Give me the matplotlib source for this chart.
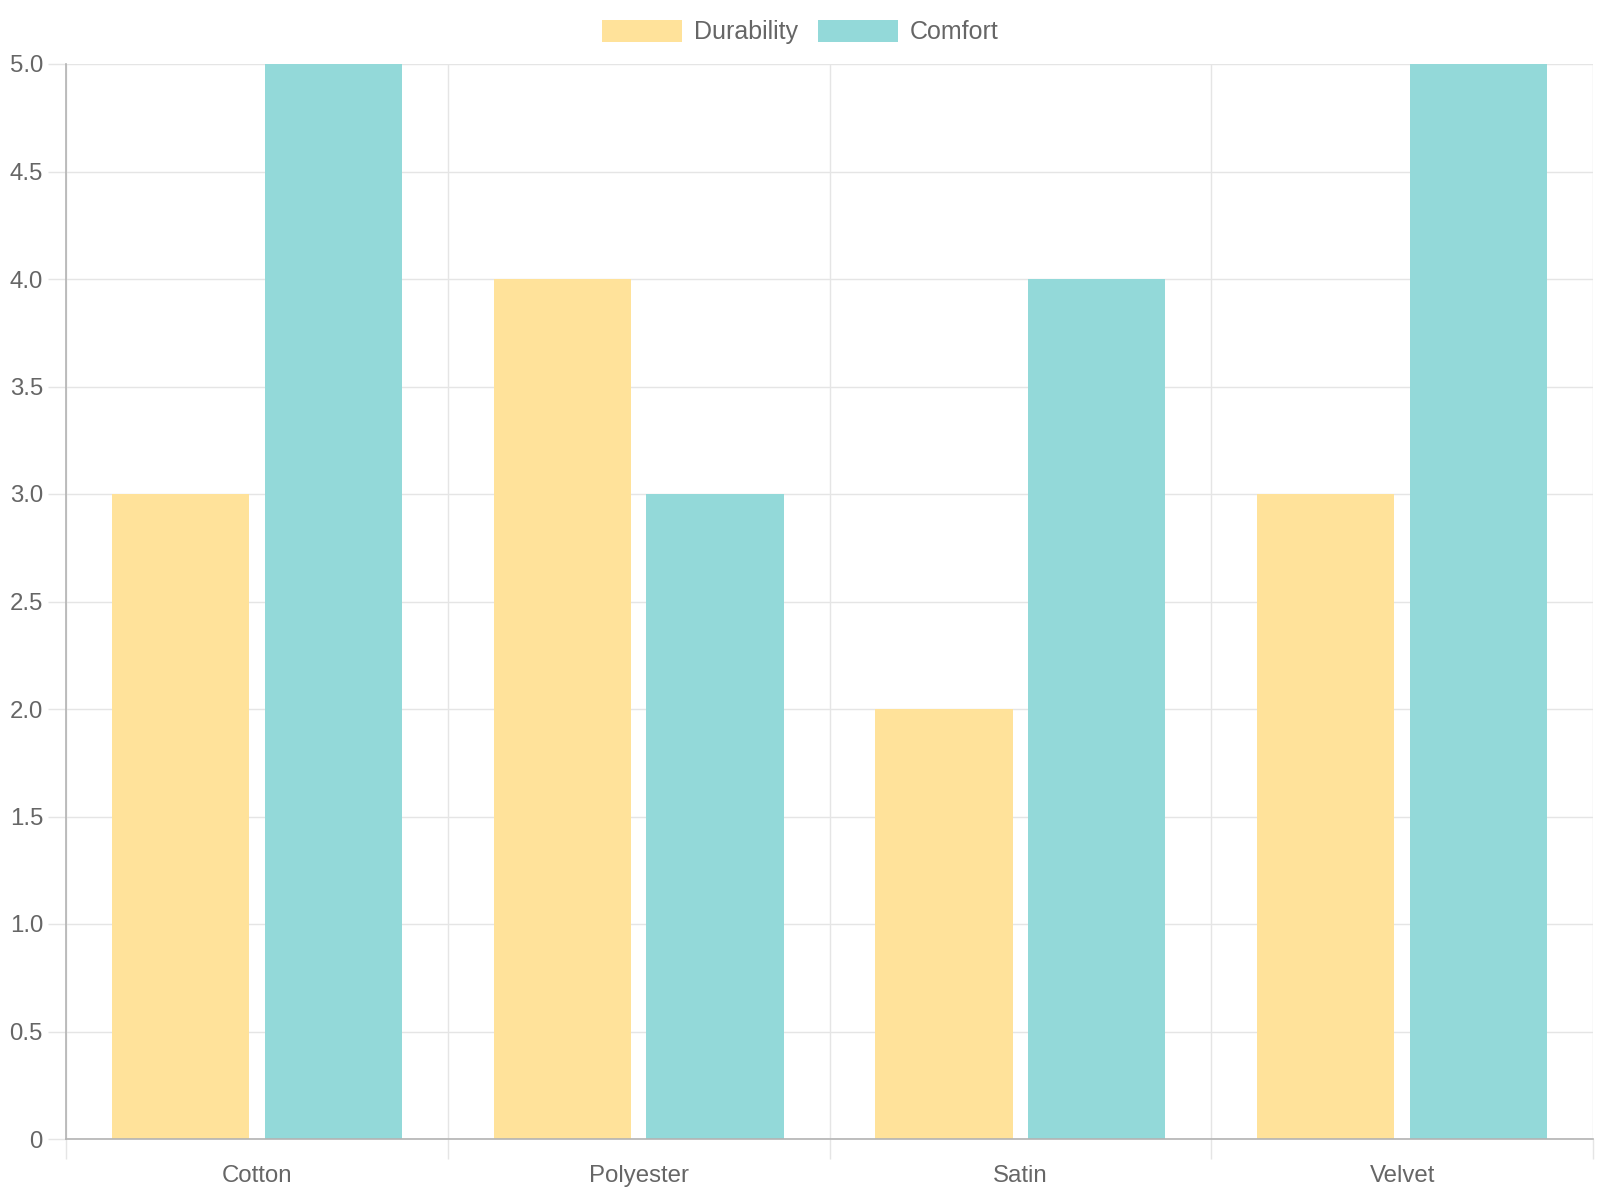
import matplotlib
matplotlib.use("Agg")
import matplotlib.pyplot as plt
import numpy as np

categories = ["Cotton", "Polyester", "Satin", "Velvet"]
durability = [3, 4, 2, 3]
comfort = [5, 3, 4, 5]
series_names = ["Durability", "Comfort"]
y_ticks = [0, 0.5, 1.0, 1.5, 2.0, 2.5, 3.0, 3.5, 4.0, 4.5, 5.0]
y_tick_labels = ["0", "0.5", "1.0", "1.5", "2.0", "2.5", "3.0", "3.5", "4.0", "4.5", "5.0"]

plt.rcParams['font.family'] = ['Liberation Sans', 'DejaVu Sans']
TXT = "#666666"
GRID = "#e5e5e5"
AXIS = "#b3b3b3"
PX = 0.72  # points per pixel at dpi 100

fig = plt.figure(figsize=(16, 12), dpi=100)
ax = fig.add_axes([66/1600, 1 - 1139/1200, (1593-66)/1600, (1139-64)/1200])

x = np.arange(len(categories))
group = 0.8
bw = group / 2 * 0.9
slot = group / 2
c1 = (1, 1, 1)
yellow = tuple(0.6*np.array([255, 206, 86])/255 + 0.4*np.array(c1))
teal = tuple(0.6*np.array([75, 192, 192])/255 + 0.4*np.array(c1))

b1 = ax.bar(x - slot/2, durability, width=bw, color=yellow, label=series_names[0], zorder=2)
b2 = ax.bar(x + slot/2, comfort, width=bw, color=teal, label=series_names[1], zorder=2)

ax.set_xlim(-0.5, len(categories) - 0.5)
ax.set_ylim(0, 5)

ax.set_yticks(y_ticks)
ax.set_yticklabels(y_tick_labels)
ax.set_xticks(x)
ax.set_xticklabels(categories)
ax.set_xticks(np.arange(len(categories) + 1) - 0.5, minor=True)

ax.tick_params(axis='y', which='major', length=18*PX, width=1, color=GRID, pad=5*PX,
               labelsize=24*PX, labelcolor=TXT)
ax.tick_params(axis='x', which='major', length=0, pad=26*PX, labelsize=24*PX, labelcolor=TXT)
ax.tick_params(axis='x', which='minor', length=20*PX, width=1, color=GRID)

ax.grid(axis='y', which='major', color=GRID, linewidth=1, zorder=0)
ax.grid(axis='x', which='minor', color=GRID, linewidth=1, zorder=0)
ax.grid(axis='x', which='major', visible=False)
ax.set_axisbelow(True)

for s in ['top', 'right']:
    ax.spines[s].set_visible(False)
for s in ['left', 'bottom']:
    ax.spines[s].set_color(AXIS)
    ax.spines[s].set_linewidth(1.2)
    ax.spines[s].set_zorder(3)

LF = 25
leg = fig.legend(handles=[b1, b2], loc='center', bbox_to_anchor=(0.5, 1 - 32/1200), ncol=2,
                 frameon=False, fontsize=LF*PX, handlelength=80/LF, handleheight=24/LF,
                 handletextpad=12/LF, columnspacing=20/LF, borderaxespad=0)
for t in leg.get_texts():
    t.set_color(TXT)

fig.savefig("out.png", dpi=100, facecolor="white")
